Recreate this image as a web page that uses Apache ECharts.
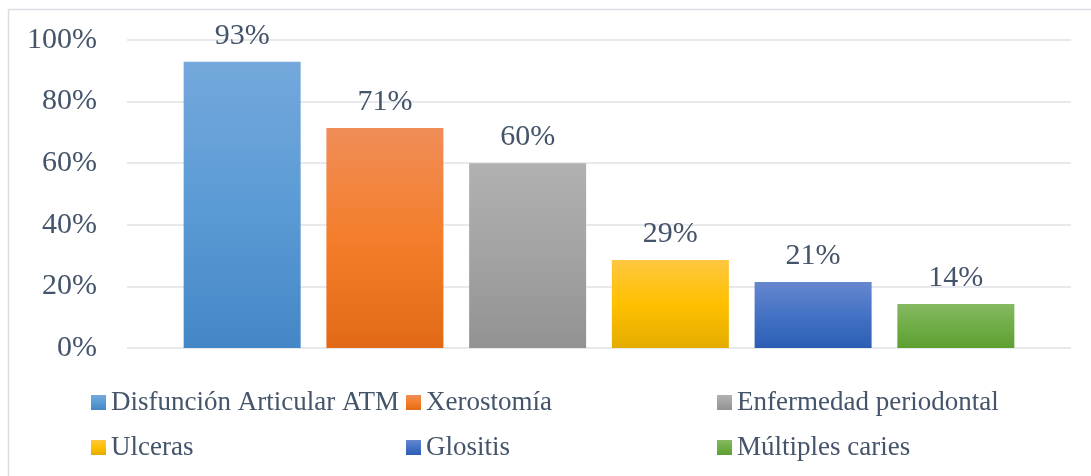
<!DOCTYPE html>
<html>
<head>
<meta charset="utf-8">
<script src="https://cdn.jsdelivr.net/npm/echarts@6/dist/echarts.min.js"></script>
<style>
  html, body { margin: 0; padding: 0; background: #fff; }
  #main { width: 1091px; height: 476px; }
</style>
</head>
<body>
<div id="main"></div>
<script>
const seriesNames = [
  'Disfunción Articular ATM',
  'Xerostomía',
  'Enfermedad periodontal',
  'Ulceras',
  'Glositis',
  'Múltiples caries'
]
const seriesValues = [92.9, 71.4, 60, 28.6, 21.4, 14.3]
const yTicks = [0, 20, 40, 60, 80, 100]

// top / middle / bottom shades of each bar
const barColors = [
  ['#74a8dc', '#5b9bd5', '#4487c6'],
  ['#f08d58', '#f47e2b', '#e26a16'],
  ['#b1b1b1', '#a3a3a3', '#929292'],
  ['#ffc740', '#ffc000', '#e4ac00'],
  ['#6687cf', '#4472c4', '#2b5eb4'],
  ['#85b962', '#70ad47', '#5e9f31']
]

const fontFamily = "'Liberation Serif', 'Times New Roman', serif"
const textColor = '#44546a'

function gradient(c) {
  return new echarts.graphic.LinearGradient(0, 0, 0, 1, [
    { offset: 0, color: c[0] },
    { offset: 0.5, color: c[1] },
    { offset: 1, color: c[2] }
  ])
}

const chart = echarts.init(document.getElementById('main'))

const series = seriesNames.map((name, i) => ({
  name: name,
  type: 'bar',
  data: [seriesValues[i]],
  barWidth: 117,
  barGap: '22%',
  itemStyle: { color: gradient(barColors[i]) },
  label: {
    show: true,
    position: 'top',
    distance: 11,
    formatter: p => Math.round(p.value) + '%',
    fontFamily: fontFamily,
    fontSize: 30,
    color: textColor
  }
}))

function legendColumn(names, left) {
  return {
    orient: 'vertical',
    left: left,
    top: 384,
    data: names,
    icon: 'rect',
    itemWidth: 15,
    itemHeight: 15,
    itemGap: 18,
    selectedMode: false,
    textStyle: {
      fontFamily: fontFamily,
      fontSize: 27,
      lineHeight: 27,
      color: textColor
    }
  }
}

chart.setOption({
  animation: false,
  graphic: [{
    type: 'rect',
    shape: { x: 8.5, y: 9.5, width: 1100, height: 500 },
    style: { fill: 'none', stroke: '#dadde2', lineWidth: 1.5 },
    silent: true
  }],
  grid: {
    left: 127,
    right: 20,
    top: 40,
    bottom: 128
  },
  legend: [
    legendColumn([seriesNames[0], seriesNames[3]], 86),
    legendColumn([seriesNames[1], seriesNames[4]], 401),
    legendColumn([seriesNames[2], seriesNames[5]], 712)
  ],
  xAxis: {
    type: 'category',
    data: [''],
    axisLine: { show: false },
    axisTick: { show: false },
    axisLabel: { show: false }
  },
  yAxis: {
    type: 'value',
    min: yTicks[0],
    max: yTicks[yTicks.length - 1],
    interval: 20,
    axisLine: { show: false },
    axisTick: { show: false },
    axisLabel: {
      formatter: '{value}%',
      margin: 30,
      fontFamily: fontFamily,
      fontSize: 30,
      color: textColor
    },
    splitLine: {
      lineStyle: { color: '#dfe2e7', width: 1.5 }
    }
  },
  series: series
})
</script>
</body>
</html>
